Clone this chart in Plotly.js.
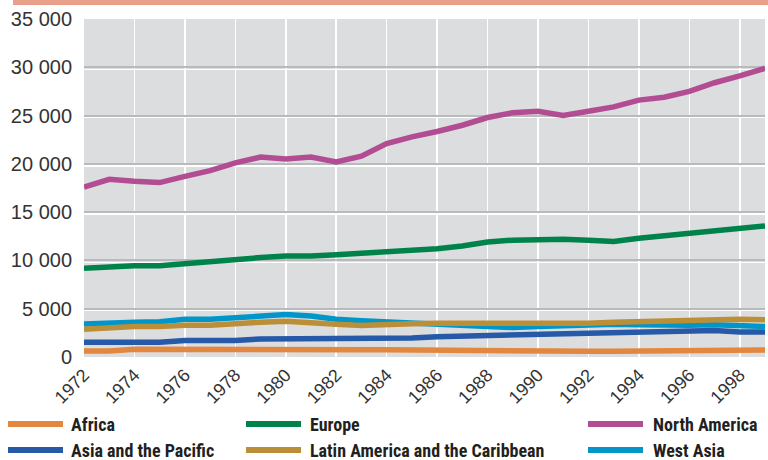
<!DOCTYPE html>
<html>
<head>
<meta charset="utf-8">
<script src="https://cdn.plot.ly/plotly-3.0.1.min.js"></script>
<style>
html,body{margin:0;padding:0;background:#fff;}
#chart{width:768px;height:460px;}
</style>
</head>
<body>
<div id="chart"></div>
<script>
const years = [1972,1973,1974,1975,1976,1977,1978,1979,1980,1981,1982,1983,1984,1985,1986,1987,1988,1989,1990,1991,1992,1993,1994,1995,1996,1997,1998,1999];
const africa = [620,620,800,780,760,760,760,760,760,740,740,740,740,740,740,740,730,730,730,730,600,590,590,590,590,590,720,730];
const asiaPacific = [1520,1520,1520,1520,1700,1700,1700,1870,1870,1830,1830,1930,1930,1970,2100,2150,2280,2350,2370,2420,2480,2480,2480,2520,2650,2750,2600,2600];
const westAsia = [3420,3550,3600,3650,3900,3900,4100,4300,4400,4250,3900,3750,3650,3500,3350,3300,3200,3050,3150,3250,3350,3400,3350,3300,3300,3350,3250,3150];
const latinAmerica = [2870,3050,3150,3150,3300,3300,3500,3600,3700,3600,3400,3250,3400,3450,3500,3500,3500,3400,3400,3400,3500,3600,3650,3730,3760,3900,3900,3850];
const europe = [9190,9360,9460,9460,9700,9950,10050,10300,10450,10450,10600,10750,10900,11100,11200,11500,11900,12100,12200,12200,12100,11950,12300,12570,12750,13000,13300,13570];
const northAmerica = [17600,18400,18200,18060,18700,19300,20100,20700,20500,20700,20200,20800,22100,22800,23350,24000,24800,25300,25450,25000,25450,25900,26600,26900,27500,28400,29100,29900];

const yTickVals = [0,5000,10000,15000,20000,25000,30000,35000];
const yTickText = ['0','5 000','10 000','15 000','20 000','25 000','30 000','35 000'];

const seriesNames = ['Africa','Asia and the Pacific','West Asia','Latin America and the Caribbean','Europe','North America'];
const seriesValues = [africa, asiaPacific, westAsia, latinAmerica, europe, northAmerica];
const seriesColors = ['#e2873f','#2659a8','#0096c9','#bb8e38','#00834a','#b34d93'];

// legend layout (pixel positions) : order as in reference
const legendOrder = [0,4,5,1,3,2];
const legendCols = [[8,70],[246,309],[588,652]];
const legendRows = [424,450];

const ML = 84, MR = 3, MT = 19, MB = 103, W = 768, H = 460;
const PW = W - ML - MR, PH = H - MT - MB;
const px2x = p => (p - ML) / PW;
const py2y = p => (H - MB - p) / PH;

const traces = seriesNames.map((n,i) => ({
  x: years, y: seriesValues[i], name: n, type: 'scatter', mode: 'lines',
  line: {color: seriesColors[i], width: 5.5}, showlegend: false, hoverinfo: 'skip'
}));
// dummy trace to activate overlay axis for the white grid highlight
traces.unshift({x:[years[0]], y:[null], yaxis:'y2', type:'scatter', mode:'lines', showlegend:false, hoverinfo:'skip'});

const shapes = [{
  type:'rect', xref:'paper', yref:'paper', x0:px2x(13), x1:px2x(768), y0:py2y(5), y1:py2y(0),
  fillcolor:'#e8a08a', line:{width:0}, layer:'above'
}];
const annotations = [];
legendOrder.forEach((si, k) => {
  const col = legendCols[k % 3], row = legendRows[Math.floor(k / 3)];
  shapes.push({type:'line', xref:'paper', yref:'paper', x0:px2x(col[0]), x1:px2x(col[0]+55), y0:py2y(row), y1:py2y(row),
    line:{color:seriesColors[si], width:6}});
  annotations.push({xref:'paper', yref:'paper', x:px2x(col[1]), y:py2y(row), xanchor:'left', yanchor:'middle',
    text:'<b>'+seriesNames[si]+'</b>', showarrow:false, borderpad:0,
    font:{family:'"Liberation Sans Narrow", "Arial Narrow", "Roboto Condensed", "Liberation Sans", Arial, sans-serif', size:18, color:'#231f20'}});
});

const shift = 2 * 35000 / PH;
const layout = {
  width: W, height: H,
  margin: {l: ML, r: MR, t: MT, b: MB, pad: 0},
  paper_bgcolor: '#ffffff', plot_bgcolor: '#dcdddf',
  showlegend: false,
  xaxis: {
    range: [1972, 1999], tick0: 1972, dtick: 2, tickangle: -45,
    showgrid: true, gridcolor: '#ffffff', gridwidth: 1.6, zeroline: false, showline: false,
    ticks: '', ticklabelstandoff: 3,
    tickfont: {family: '"Liberation Sans", Arial, sans-serif', size: 18, color: '#333333'}
  },
  yaxis: {
    range: [0, 35000], tickvals: yTickVals, ticktext: yTickText,
    showgrid: true, gridcolor: '#b9babc', gridwidth: 2, zeroline: false, showline: false,
    ticks: '', ticklabelstandoff: 11,
    tickfont: {family: '"Liberation Sans", Arial, sans-serif', size: 20, color: '#333333'}
  },
  yaxis2: {
    overlaying: 'y', range: [shift, 35000 + shift], tickvals: yTickVals.slice(1, 7),
    showgrid: true, gridcolor: '#ffffff', gridwidth: 1.5, zeroline: false, showline: false,
    showticklabels: false, ticks: ''
  },
  shapes: shapes,
  annotations: annotations
};

Plotly.newPlot('chart', traces, layout, {displayModeBar: false, staticPlot: true});
</script>
</body>
</html>
